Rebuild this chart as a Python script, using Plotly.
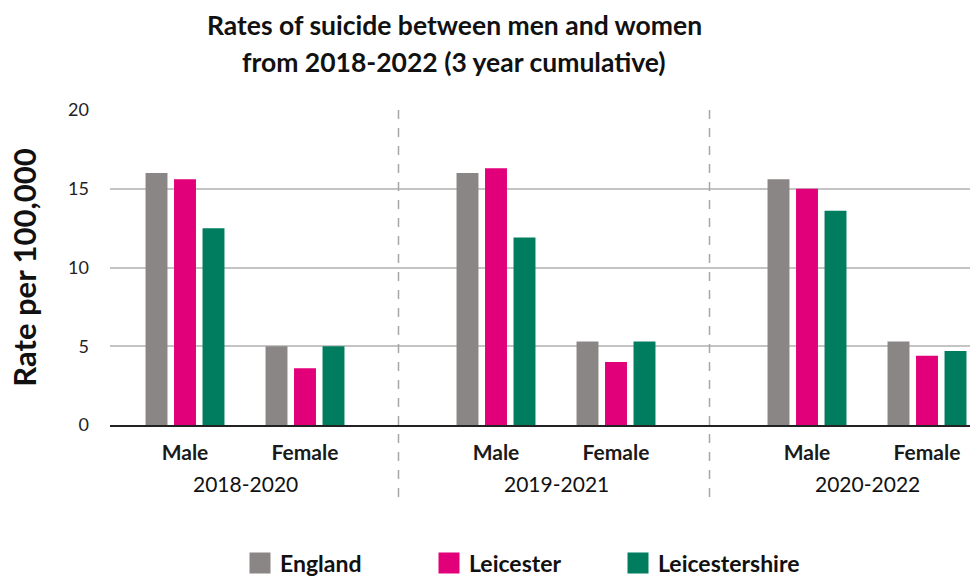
import plotly.graph_objects as go

periods = ["2018-2020", "2019-2021", "2020-2022"]
sexes = ["Male", "Female"]
series = ["England", "Leicester", "Leicestershire"]

england = [16.0, 5.0, 16.0, 5.3, 15.6, 5.3]
leicester = [15.6, 3.6, 16.3, 4.0, 15.0, 4.4]
leicestershire = [12.5, 5.0, 11.9, 5.3, 13.6, 4.7]

title_lines = ["Rates of suicide between men and women", "from 2018-2022 (3 year cumulative)"]

colors = ["#8A8685", "#E2007A", "#007C5F"]

GROUP_STEP = 3.11
SEX_STEP = 1.2

xpos = []
for g in range(len(periods)):
    for s in range(len(sexes)):
        xpos.append(g * GROUP_STEP + s * SEX_STEP)
ticktext = [sx for _ in periods for sx in sexes]

FONT = "Lato, 'Noto Sans', sans-serif"

fig = go.Figure()
for name, vals, col in zip(series, [england, leicester, leicestershire], colors):
    fig.add_trace(go.Bar(x=xpos, y=vals, name=name, marker_color=col,
                         marker_line_width=0, showlegend=False, legendgroup=name))
    fig.add_trace(go.Scatter(x=[None], y=[None], mode="markers", name=name,
                             legendgroup=name,
                             marker=dict(symbol="square", size=16, color=col,
                                         line=dict(color=col, width=5))))

shapes = []
for g in range(len(periods) - 1):
    xs = (g * GROUP_STEP + SEX_STEP + (g + 1) * GROUP_STEP) / 2 - 0.02
    shapes.append(dict(type="line", xref="x", yref="paper", x0=xs, x1=xs,
                       y0=1.0, y1=-0.248,
                       line=dict(color="#A6A6A6", width=1.5, dash="dash")))

annotations = []
for g, p in enumerate(periods):
    annotations.append(dict(x=g * GROUP_STEP + SEX_STEP / 2, y=0, xref="x", yref="paper",
                            yanchor="middle", yshift=-58, text=p, showarrow=False,
                            font=dict(family=FONT, size=21, color="#111111")))
for i, line in enumerate(title_lines):
    annotations.append(dict(x=(454 - 110) / 860, y=1, xref="paper", yref="paper",
                            xanchor="center", yanchor="middle", yshift=110 - (25 + 37 * i),
                            text=line, showarrow=False,
                            font=dict(family=FONT, size=26.5, color="#111111", weight="bold")))

fig.update_layout(
    width=970, height=577,
    margin=dict(l=110, r=0, t=110, b=152),
    paper_bgcolor="white", plot_bgcolor="white",
    barmode="group", bargap=0.2875, bargroupgap=0.23,
    xaxis=dict(range=[-0.75, 7.85], tickmode="array", tickvals=xpos, ticktext=ticktext,
               showgrid=False, showline=True, linecolor="#222222", linewidth=2,
               ticks="", ticklabelstandoff=8, zeroline=False,
               tickfont=dict(family=FONT, size=21, color="#1a1a1a", weight="bold")),
    yaxis=dict(range=[0, 20], tickvals=[0, 5, 10, 15, 20], showgrid=True,
               gridcolor="#C4C4C4", gridwidth=1.5, zeroline=False, showline=False,
               ticks="", ticklabelstandoff=20,
               tickfont=dict(family=FONT, size=18, color="#222222"),
               title=dict(text="Rate per 100,000", standoff=22,
                          font=dict(family=FONT, size=31, color="#111111", weight="bold"))),
    legend=dict(orientation="h", x=(240 - 110) / 860, xanchor="left", y=0.024, yanchor="middle",
                yref="container", entrywidth=144, entrywidthmode="pixels",
                font=dict(family=FONT, size=23, color="#111111", weight="bold"),
                itemwidth=30, tracegroupgap=0),
    shapes=shapes, annotations=annotations,
)

fig.write_html("out.html", config={"displayModeBar": False},
               post_script="document.body.style.margin='0';document.body.style.overflow='hidden';")
